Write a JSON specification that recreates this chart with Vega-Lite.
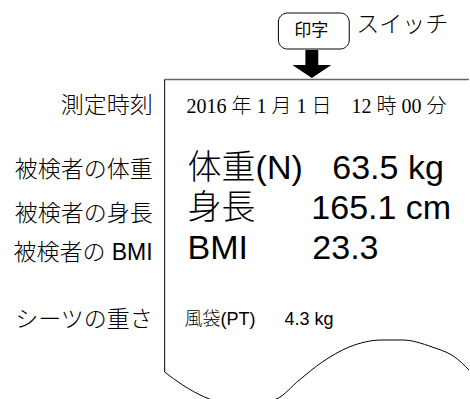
{
  "$schema": "https://vega.github.io/schema/vega-lite/v6.json",
  "width": 470,
  "height": 399,
  "autosize": {"type": "fit", "contains": "padding"},
  "padding": 0,
  "background": "white",
  "config": {"view": {"stroke": null}},
  "datasets": {
    "curve": [
      {"x": 165, "y": 372}, {"x": 183, "y": 385}, {"x": 205, "y": 397}, {"x": 241, "y": 406},
      {"x": 277, "y": 399}, {"x": 300, "y": 380}, {"x": 323, "y": 362}, {"x": 350, "y": 347},
      {"x": 383, "y": 340}, {"x": 403, "y": 340}, {"x": 433, "y": 347}, {"x": 457, "y": 358},
      {"x": 470, "y": 370}
    ],
    "topEdge": [{"x": 165, "y": 79.5, "x2": 470, "y2": 79.5}],
    "leftEdge": [{"x": 165, "y": 79.5, "x2": 165, "y2": 372}],
    "button": [{"x": 279, "y": 13, "x2": 350, "y2": 49}],
    "arrow": [{"x": 312.5, "y": 64}],
    "leftLabels": [
      {"x": 153, "y": 106, "text": "測定時刻"},
      {"x": 153, "y": 170, "text": "被検者の体重"},
      {"x": 153, "y": 214, "text": "被検者の身長"},
      {"x": 153, "y": 253, "text": "被検者の BMI"},
      {"x": 153, "y": 320, "text": "シーツの重さ"}
    ],
    "dateLine": [{"x": 187, "y": 107, "text": "2016 年 1 月 1 日　12 時 00 分"}],
    "bigText": [
      {"x": 188, "y": 169, "text": "体重(N)"},
      {"x": 333, "y": 169, "text": "63.5 kg"},
      {"x": 188, "y": 209, "text": "身長"},
      {"x": 312, "y": 209, "text": "165.1 cm"},
      {"x": 188, "y": 249, "text": "BMI"},
      {"x": 313, "y": 249, "text": "23.3"}
    ],
    "smallText": [
      {"x": 185, "y": 320, "text": "風袋(PT)"},
      {"x": 285, "y": 320, "text": "4.3 kg"}
    ],
    "buttonText": [{"x": 312, "y": 31, "text": "印字"}],
    "switchText": [{"x": 357, "y": 25, "text": "スイッチ"}]
  },
  "encoding": {
    "x": {"field": "x", "type": "quantitative", "scale": {"domain": [0, 470], "nice": false, "zero": false}, "axis": null},
    "y": {"field": "y", "type": "quantitative", "scale": {"domain": [0, 399], "reverse": true, "nice": false, "zero": false}, "axis": null}
  },
  "layer": [
    {
      "data": {"name": "curve"},
      "mark": {"type": "line", "interpolate": "monotone", "color": "black", "strokeWidth": 1, "clip": true},
      "encoding": {}
    },
    {
      "data": {"name": "topEdge"},
      "mark": {"type": "rule", "color": "#666666", "strokeWidth": 1.5},
      "encoding": {"x2": {"field": "x2"}, "y2": {"field": "y2"}}
    },
    {
      "data": {"name": "leftEdge"},
      "mark": {"type": "rule", "color": "black", "strokeWidth": 1},
      "encoding": {"x2": {"field": "x2"}, "y2": {"field": "y2"}}
    },
    {
      "data": {"name": "button"},
      "mark": {"type": "rect", "fill": "white", "stroke": "black", "strokeWidth": 1, "cornerRadius": 9},
      "encoding": {"x2": {"field": "x2"}, "y2": {"field": "y2"}}
    },
    {
      "data": {"name": "arrow"},
      "mark": {"type": "point", "filled": true, "color": "black", "opacity": 1, "size": 1521,
        "shape": "M-0.33,-0.72L0.33,-0.72L0.33,0.05L1,0.05L0,0.72L-1,0.05L-0.33,0.05Z"},
      "encoding": {}
    },
    {
      "data": {"name": "leftLabels"},
      "mark": {"type": "text", "align": "right", "baseline": "middle", "font": "Liberation Sans, Noto Sans CJK JP", "fontSize": 23, "fontWeight": 300, "color": "black"},
      "encoding": {"text": {"field": "text"}}
    },
    {
      "data": {"name": "dateLine"},
      "mark": {"type": "text", "align": "left", "baseline": "middle", "font": "Liberation Serif, Noto Sans CJK JP", "fontSize": 20, "fontWeight": 300, "color": "black"},
      "encoding": {"text": {"field": "text"}}
    },
    {
      "data": {"name": "bigText"},
      "mark": {"type": "text", "align": "left", "baseline": "middle", "font": "Liberation Sans, Noto Sans CJK JP", "fontSize": 34, "fontWeight": 300, "color": "black"},
      "encoding": {"text": {"field": "text"}}
    },
    {
      "data": {"name": "smallText"},
      "mark": {"type": "text", "align": "left", "baseline": "middle", "font": "Liberation Sans, Noto Sans CJK JP", "fontSize": 18, "fontWeight": 300, "color": "black"},
      "encoding": {"text": {"field": "text"}}
    },
    {
      "data": {"name": "buttonText"},
      "mark": {"type": "text", "align": "center", "baseline": "middle", "font": "Noto Sans CJK JP", "fontSize": 17, "color": "black"},
      "encoding": {"text": {"field": "text"}}
    },
    {
      "data": {"name": "switchText"},
      "mark": {"type": "text", "align": "left", "baseline": "middle", "font": "Noto Sans CJK JP", "fontSize": 23, "fontWeight": 300, "color": "black"},
      "encoding": {"text": {"field": "text"}}
    }
  ]
}
